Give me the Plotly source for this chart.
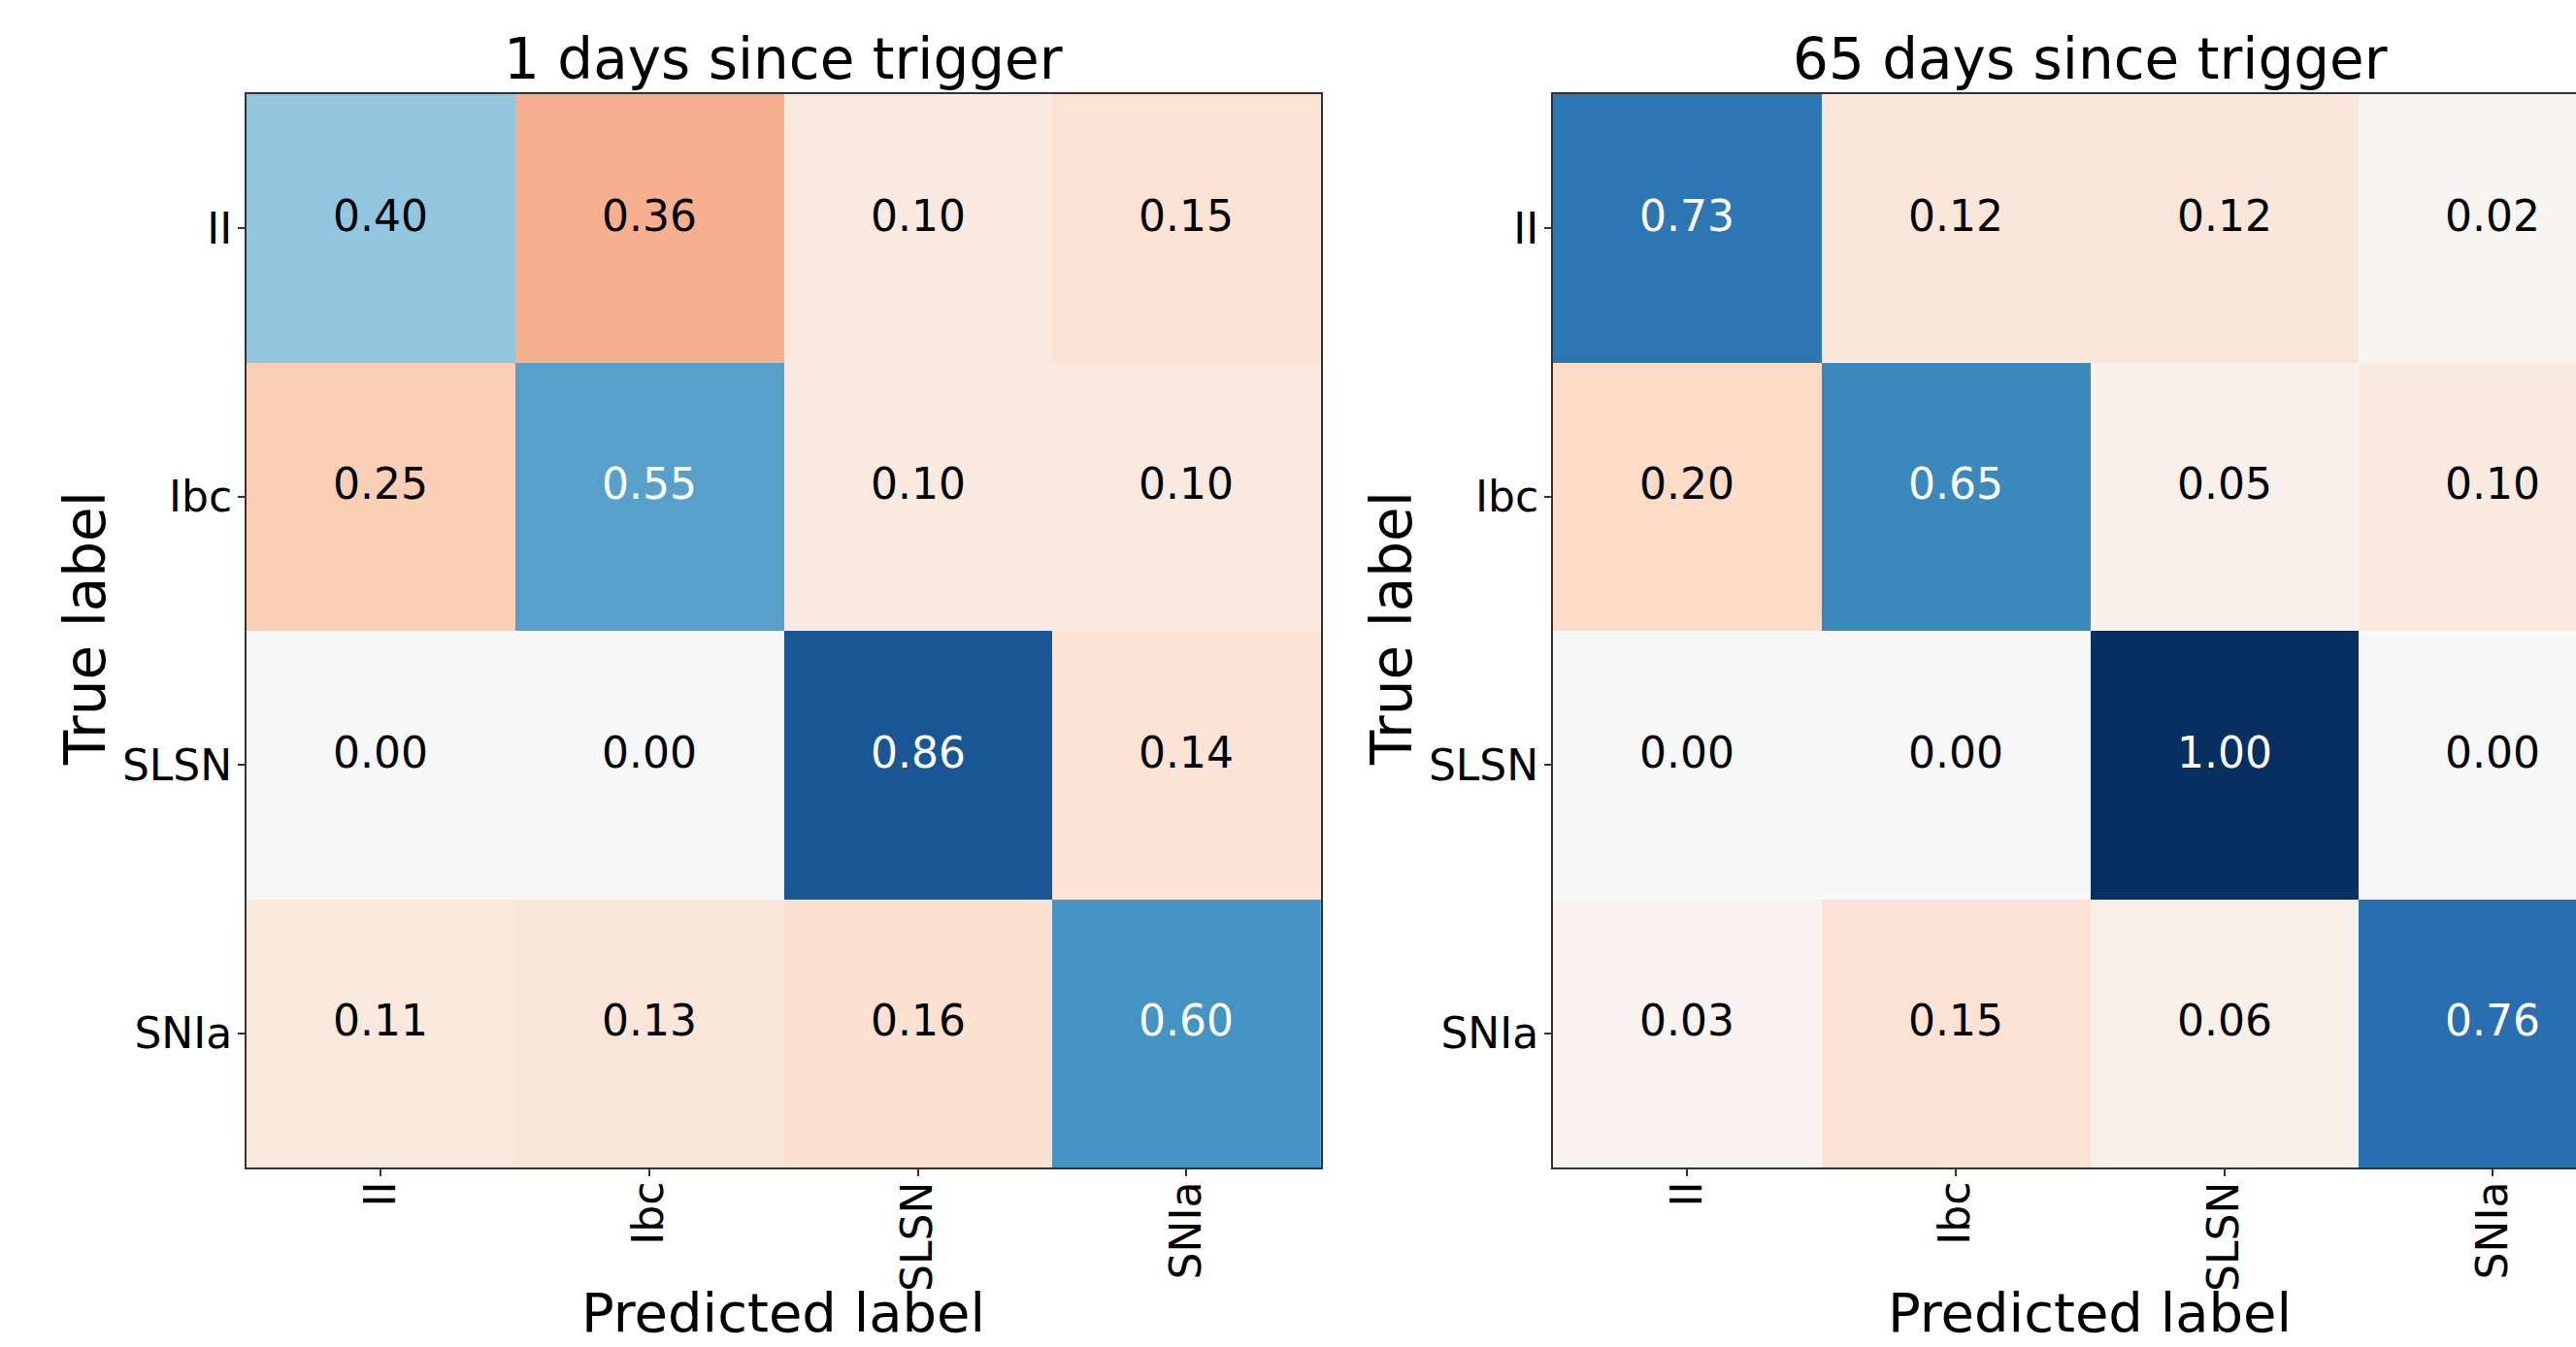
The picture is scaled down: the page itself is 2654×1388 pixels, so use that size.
import plotly.graph_objects as go

labels = ["II", "Ibc", "SLSN", "SNIa"]

# rows = true label, columns = predicted label
cm_day1 = [
    [0.40, 0.36, 0.10, 0.15],
    [0.25, 0.55, 0.10, 0.10],
    [0.00, 0.00, 0.86, 0.14],
    [0.11, 0.13, 0.16, 0.60],
]
cm_day65 = [
    [0.73, 0.12, 0.12, 0.02],
    [0.20, 0.65, 0.05, 0.10],
    [0.00, 0.00, 1.00, 0.00],
    [0.03, 0.15, 0.06, 0.76],
]
titles = ["1 days since trigger", "65 days since trigger"]

# matplotlib RdBu
rdbu = ["#67001f", "#b2182b", "#d6604d", "#f4a582", "#fddbc7", "#f7f7f7",
        "#d1e5f0", "#92c5de", "#4393c3", "#2166ac", "#053061"]
colorscale = [[i / 10, c] for i, c in enumerate(rdbu)]

W, H = 2654, 1388
FONT = "DejaVu Sans"

def px_x(p):
    return p / W

def px_y(p):
    return 1 - p / H

cell = 276.7
top0 = 97
bottom0 = 1203
x_domains = [[px_x(254), px_x(254 + 4 * cell)], [px_x(1600), 1.0]]
y_domain = [px_y(bottom0), px_y(top0)]
visible_right = (W - 1600) / cell - 0.5

fig = go.Figure()
annotations = []
for k, cm in enumerate([cm_day1, cm_day65]):
    signed = [[(v if i == j else -v) for j, v in enumerate(row)] for i, row in enumerate(cm)]
    xa = "x" if k == 0 else "x2"
    ya = "y" if k == 0 else "y2"
    fig.add_trace(go.Heatmap(
        z=signed, x=labels, y=labels, colorscale=colorscale, zmin=-1, zmax=1,
        showscale=False, xaxis=xa, yaxis=ya, hoverinfo="skip", xgap=0, ygap=0,
    ))
    for i, row in enumerate(cm):
        for j, v in enumerate(row):
            white = (i == j) and v > 0.5
            annotations.append(dict(
                x=labels[j], y=labels[i], xref=xa, yref=ya, text=f"{v:.2f}",
                showarrow=False, yshift=13,
                font=dict(family=FONT, size=44, color="white" if white else "black"),
            ))
    full_left = 254 if k == 0 else 1600
    cx = px_x(full_left + 2 * cell)
    annotations.append(dict(
        x=cx, y=px_y(top0), xref="paper", yref="paper", text=titles[k],
        showarrow=False, xanchor="center", yanchor="bottom", yshift=0,
        font=dict(family=FONT, size=58, color="black"),
    ))
    annotations.append(dict(
        x=cx, y=px_y(1352), xref="paper", yref="paper", text="Predicted label",
        showarrow=False, xanchor="center", yanchor="middle",
        font=dict(family=FONT, size=56, color="black"),
    ))
    annotations.append(dict(
        x=px_x(88 if k == 0 else 1434), y=px_y(648), xref="paper", yref="paper",
        text="True label", textangle=-90, showarrow=False,
        xanchor="center", yanchor="middle",
        font=dict(family=FONT, size=58, color="black"),
    ))

axis_common = dict(
    showgrid=False, zeroline=False, ticks="outside", ticklen=7, tickwidth=1.5,
    tickcolor="#333333", linecolor="#333333", linewidth=2, showline=True,
    tickfont=dict(family=FONT, size=44, color="black"), fixedrange=True,
)

fig.update_layout(
    width=W, height=H, margin=dict(l=0, r=0, t=0, b=0),
    paper_bgcolor="white", plot_bgcolor="white", showlegend=False,
    annotations=annotations,
    xaxis=dict(axis_common, domain=x_domains[0], range=[-0.5, 3.5], mirror=True,
               tickangle=-90, anchor="y", ticklabelstandoff=-12),
    yaxis=dict(axis_common, domain=y_domain, range=[3.5, -0.5], mirror=True,
               anchor="x", ticklabelstandoff=-3),
    xaxis2=dict(axis_common, domain=x_domains[1], range=[-0.5, visible_right],
                mirror=True, tickangle=-90, anchor="y2", ticklabelstandoff=-12),
    yaxis2=dict(axis_common, domain=y_domain, range=[3.5, -0.5], mirror=False,
                anchor="x2", ticklabelstandoff=-3),
)

fig.write_html("out.html")
